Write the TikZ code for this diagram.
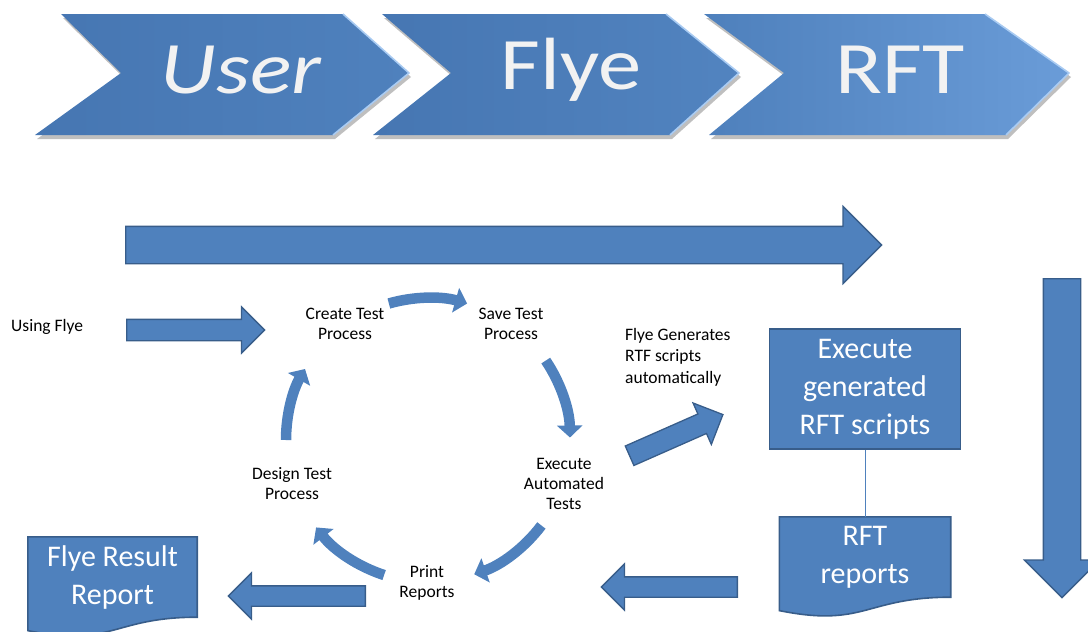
\documentclass[tikz,border=0pt]{standalone}
\usepackage{fontspec}
\setmainfont{Carlito}
\usetikzlibrary{shapes.arrows,arrows.meta,calc,backgrounds}
\definecolor{flyeblue}{HTML}{4F81BD}
\definecolor{flyeedge}{HTML}{385D8A}
\definecolor{flyedark}{HTML}{4676B2}
\definecolor{flyelight}{HTML}{6A9CD8}
\definecolor{flyeshine}{HTML}{A9CBF2}
\definecolor{stagetextcol}{HTML}{F2F2F2}
\tikzset{
  stagetext/.style={text=stagetextcol,font=\fontsize{74}{84}\selectfont,xscale=1.17,inner sep=0pt},
  chevshadow/.style={fill=black!25},
  chevshine/.style={draw=flyeshine,line width=1.6pt,line join=round},
  fatarrow/.style={single arrow,draw=flyeedge,fill=flyeblue,line width=1.3pt,inner xsep=0pt,
    single arrow tip angle=90,anchor=tail,minimum width=1pt},
  steplabel/.style={font=\fontsize{17.5}{20}\selectfont,align=center,inner sep=1pt},
  execbox/.style={draw=flyeedge,fill=flyeblue,line width=1.6pt,text=white,inner sep=0pt,
    font=\fontsize{30}{38}\selectfont,align=center},
  docnode/.style={text=white,inner sep=0pt,font=\fontsize{30}{38}\selectfont,align=center},
  docfill/.style={draw=flyeedge,fill=flyeblue,line width=1.6pt},
  cyclearrow/.style={flyeblue,line width=10.5pt,-{Triangle[width=25pt,length=12pt]}},
}

\begin{document}
\begin{tikzpicture}[x=1pt,y=-1pt]
  \useasboundingbox (0,0) rectangle (1088,632);
  \clip (0,0) rectangle (1088,632);

  % the three stages
  \fill[chevshadow] (63,18) -- (345,18) -- (411,77) -- (335,139) -- (37,139) -- (123,77) -- cycle;
  \fill[chevshadow] (384,18) -- (668,18) -- (741,77) -- (672,139) -- (375,139) -- (453,77) -- cycle;
  \fill[chevshadow] (706,18) -- (987,18) -- (1071,77) -- (1008,139) -- (711,139) -- (786,77) -- cycle;
  \shade[left color=flyedark,right color=flyeblue] (61,14) -- (343,14) -- (409,73) -- (333,135) -- (35,135) -- (121,73) -- cycle;
  \shade[left color=flyedark,right color=flyeblue!90!flyelight] (382,14) -- (666,14) -- (739,73) -- (670,135) -- (373,135) -- (451,73) -- cycle;
  \shade[left color=flyeblue!90!flyedark,right color=flyelight] (704,14) -- (985,14) -- (1069,73) -- (1006,135) -- (709,135) -- (784,73) -- cycle;
  \draw[chevshine] (343,14) -- (409,73) -- (333,135);
  \draw[chevshine] (666,14) -- (739,73) -- (670,135);
  \draw[chevshine] (985,14) -- (1069,73) -- (1006,135);
  \node[stagetext,font=\fontsize{74}{84}\selectfont\itshape] (user) at (241,70) {User};
  \node[stagetext] (flye) at (571,70) {Flye};
  \node[stagetext] (rft) at (900,70) {RFT};

  % big flow arrows
  \node[fatarrow,minimum height=756pt,inner ysep=18pt,single arrow head extend=20pt] (flowright) at (125,245) {};
  \node[fatarrow,rotate=-90,minimum height=319pt,inner ysep=18pt,single arrow head extend=19pt] (flowdown) at (1062,278) {};

  % test cycle
  \coordinate (ctr) at (428,440);
  \node[steplabel] (create) at (345,324) {Create Test\\Process};
  \node[steplabel] (save) at (511,324) {Save Test\\Process};
  \node[steplabel] (execauto) at (564,484) {Execute\\Automated\\Tests};
  \node[steplabel] (print) at (427,583) {Print\\Reports};
  \node[steplabel] (design) at (292,484) {Design Test\\Process};
  \draw[cyclearrow] ($(ctr)+(-106:142)$) arc[start angle=-106,end angle=-74,radius=142];
  \draw[cyclearrow] ($(ctr)+(-34:142)$) arc[start angle=-34,end angle=-1,radius=142];
  \draw[cyclearrow] ($(ctr)+(37:142)$) arc[start angle=37,end angle=71,radius=142];
  \draw[cyclearrow] ($(ctr)+(108:142)$) arc[start angle=108,end angle=142,radius=142];
  \draw[cyclearrow] ($(ctr)+(180:142)$) arc[start angle=180,end angle=210,radius=142];

  \node[steplabel,anchor=west] (using) at (10,327) {Using Flye};
  \node[fatarrow,minimum height=138pt,inner ysep=10pt,single arrow head extend=12.5pt] (usingarrow) at (126,330) {};

  \node[steplabel,anchor=west,align=left,font=\fontsize{17.5}{21.5}\selectfont] (flyegen) at (624,357) {Flye Generates\\RTF scripts\\automatically};
  \node[fatarrow,rotate=23.8,minimum height=102pt,inner ysep=10pt,single arrow head extend=12pt] (genarrow) at (629,456) {};

  % RFT side
  \node[execbox,minimum width=191pt,minimum height=120pt] (execrft) at (865,389) {Execute\\generated\\RFT scripts};
  \node[docnode,minimum width=171pt,minimum height=80pt] (rftrep) at (865,557) {RFT\\reports};
  \node[docnode,minimum width=169pt,minimum height=80pt] (flyeres) at (112.5,577) {Flye Result\\Report};
  \begin{scope}[on background layer]
    \draw[docfill] (rftrep.north west) -- (rftrep.north east) -- (rftrep.south east)
      .. controls (rftrep.south) and ($(rftrep.south)+(0,30.7)$) .. ($(rftrep.south west)+(0,13.4)$) -- cycle;
    \draw[docfill] (flyeres.north west) -- (flyeres.north east) -- (flyeres.south east)
      .. controls (flyeres.south) and ($(flyeres.south)+(0,30.7)$) .. ($(flyeres.south west)+(0,13.4)$) -- cycle;
  \end{scope}
  \draw[flyeblue,line width=1pt] (execrft.south) -- (rftrep.north);
  \node[fatarrow,rotate=180,minimum height=136pt,inner ysep=9.5pt,single arrow head extend=13pt] (reparrow) at (738,587) {};
  \node[fatarrow,rotate=180,minimum height=137pt,inner ysep=9.5pt,single arrow head extend=13pt] (resarrow) at (366,596) {};
\end{tikzpicture}
\end{document}
